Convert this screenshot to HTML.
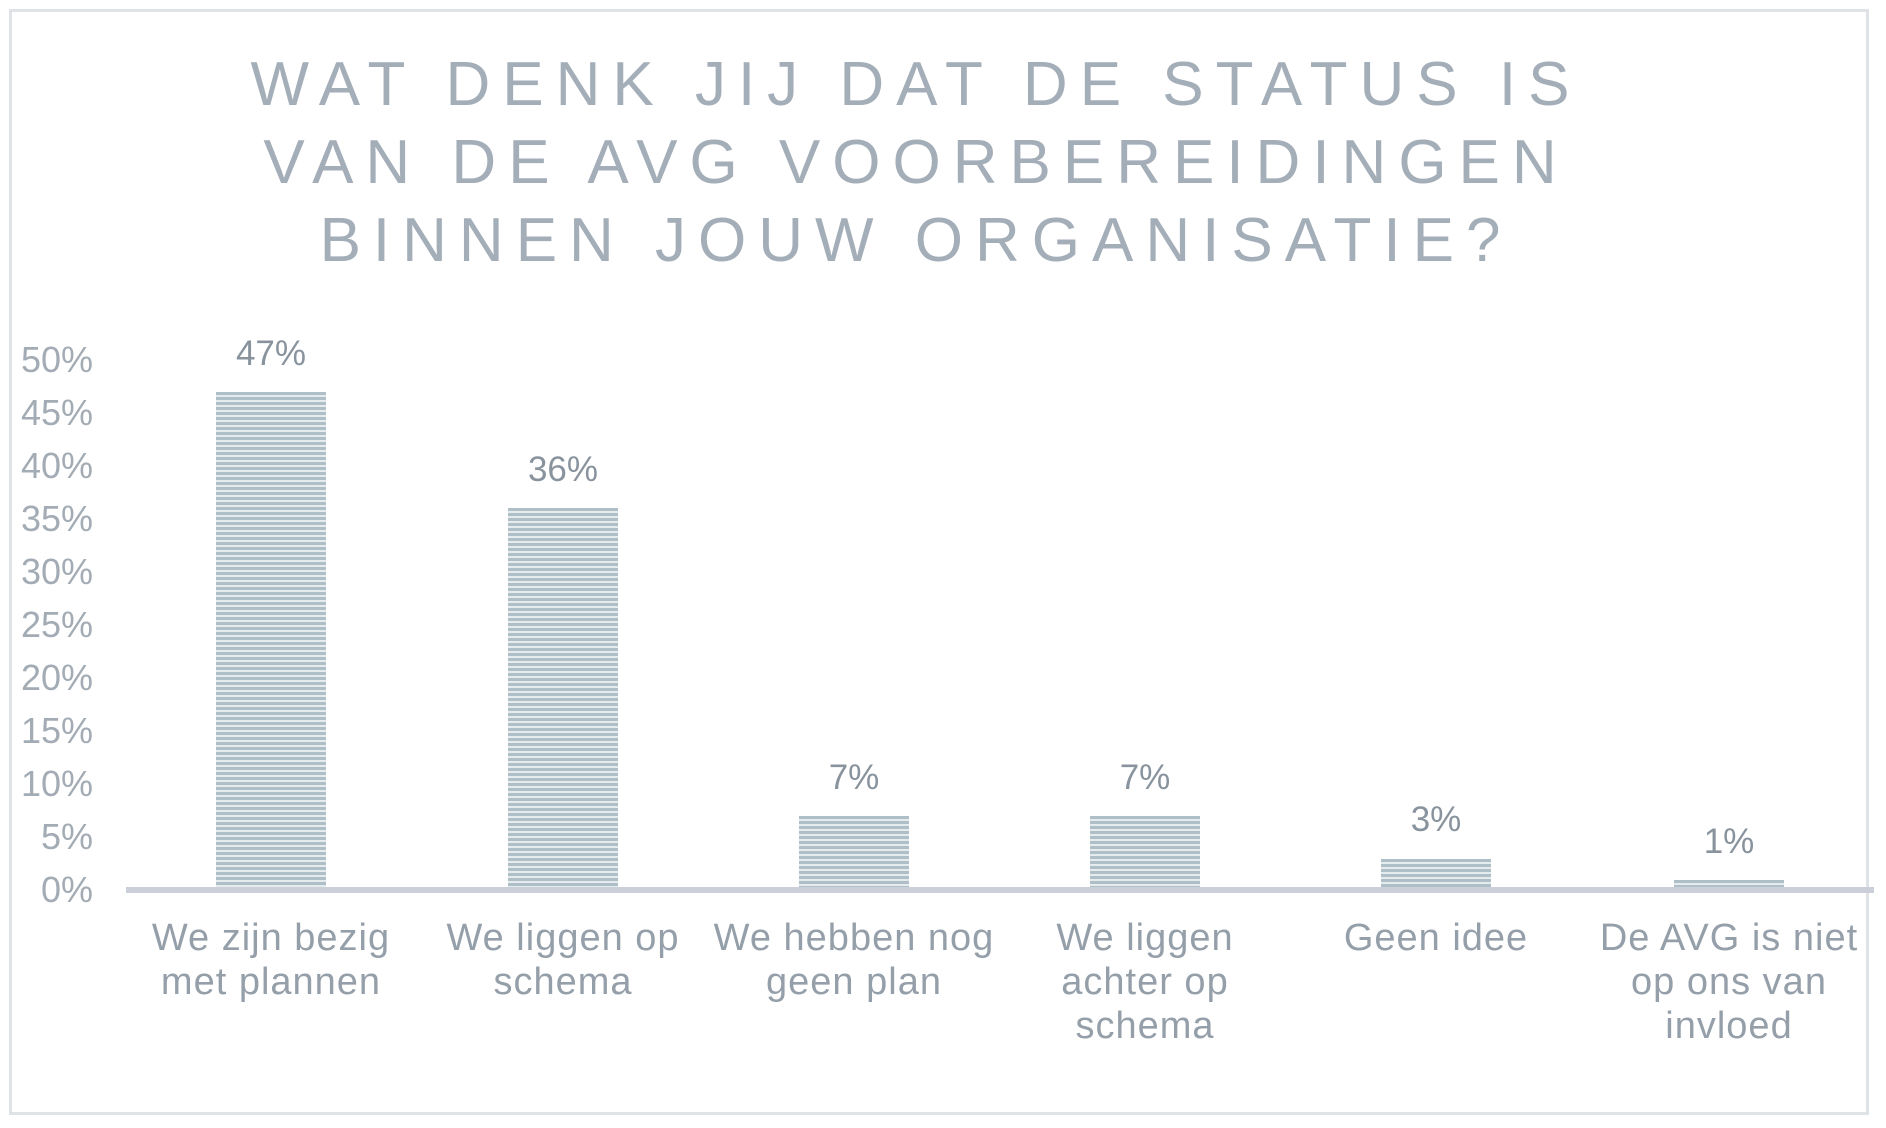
<!DOCTYPE html>
<html><head><meta charset="utf-8"><style>
body{margin:0;width:1886px;height:1128px;background:#fff;position:relative;overflow:hidden;font-family:"Liberation Sans",sans-serif;color:#8a96a1}
.frame{position:absolute;left:9px;top:9px;width:1860px;height:1106px;border:3px solid #dfe3e8;box-sizing:border-box}
.title{position:absolute;left:0;width:1832px;text-align:center;font-size:62px;letter-spacing:12px;color:#a4aeb8;line-height:78px;top:46px}
.yt{position:absolute;right:1793px;font-size:36px;transform:translateY(-50%);color:#a3acb5}
.axis{position:absolute;left:126px;top:887px;width:1748px;height:6px;background:#cbd0d8}
.bar{position:absolute;width:110px;background:repeating-linear-gradient(to bottom,#aebfc7 0 3px,#e6ecee 3px 5px)}
.val{position:absolute;width:200px;text-align:center;font-size:35px;color:#88939d}
.cat{position:absolute;width:330px;text-align:center;font-size:38px;letter-spacing:1px;line-height:44px;top:916px;color:#959fa9}
</style></head><body>
<div class="frame"></div>
<div class="title">WAT DENK JIJ DAT DE STATUS IS<br>VAN DE AVG VOORBEREIDINGEN<br>BINNEN JOUW ORGANISATIE?</div>
<div class="yt" style="top:360px">50%</div>
<div class="yt" style="top:413px">45%</div>
<div class="yt" style="top:466px">40%</div>
<div class="yt" style="top:519px">35%</div>
<div class="yt" style="top:572px">30%</div>
<div class="yt" style="top:625px">25%</div>
<div class="yt" style="top:678px">20%</div>
<div class="yt" style="top:731px">15%</div>
<div class="yt" style="top:784px">10%</div>
<div class="yt" style="top:837px">5%</div>
<div class="yt" style="top:890px">0%</div>

<div class="bar" style="left:216px;top:392px;height:496px"></div>
<div class="bar" style="left:508px;top:508px;height:380px"></div>
<div class="bar" style="left:799px;top:816px;height:72px"></div>
<div class="bar" style="left:1090px;top:816px;height:72px"></div>
<div class="bar" style="left:1381px;top:859px;height:29px"></div>
<div class="bar" style="left:1674px;top:880px;height:8px"></div>
<div class="axis"></div>

<div class="val" style="left:171px;top:334px">47%</div>
<div class="val" style="left:463px;top:450px">36%</div>
<div class="val" style="left:754px;top:758px">7%</div>
<div class="val" style="left:1045px;top:758px">7%</div>
<div class="val" style="left:1336px;top:800px">3%</div>
<div class="val" style="left:1629px;top:822px">1%</div>

<div class="cat" style="left:106px">We zijn bezig<br>met plannen</div>
<div class="cat" style="left:398px">We liggen op<br>schema</div>
<div class="cat" style="left:689px">We hebben nog<br>geen plan</div>
<div class="cat" style="left:980px">We liggen<br>achter op<br>schema</div>
<div class="cat" style="left:1271px">Geen idee</div>
<div class="cat" style="left:1564px">De AVG is niet<br>op ons van<br>invloed</div>
</body></html>
